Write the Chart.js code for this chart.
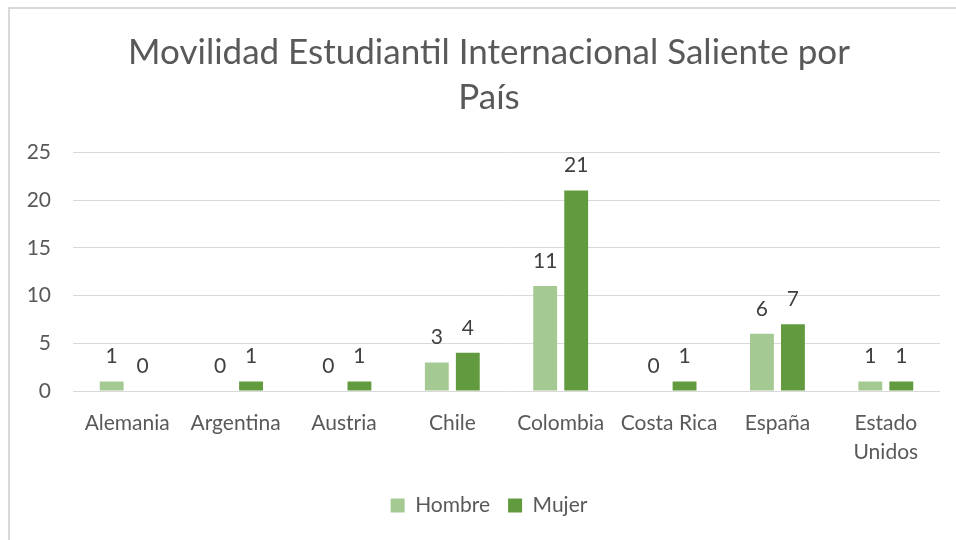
<!DOCTYPE html>
<html>
<head>
<meta charset="utf-8">
<script src="https://cdn.jsdelivr.net/npm/chart.js@4"></script>
<style>
  html, body { margin: 0; padding: 0; background: #fff; overflow: hidden; }
  #frame { position: absolute; left: 8px; top: 7px; width: 960px; height: 540px; border: 2px solid #d9d9d9; box-sizing: border-box; }
  #wrap { position: absolute; left: 0; top: 0; width: 956px; height: 540px; }
</style>
</head>
<body>
<div id="frame"></div>
<div id="wrap"><canvas id="chart" width="956" height="540"></canvas></div>
<script>
const categories = ['Alemania', 'Argentina', 'Austria', 'Chile', 'Colombia', 'Costa Rica', 'España', ['Estado', 'Unidos']];
const hombre = [1, 0, 0, 3, 11, 0, 6, 1];
const mujer = [0, 1, 1, 4, 21, 1, 7, 1];
const yTicks = [0, 5, 10, 15, 20, 25];

const fontFamily = 'Lato, "Open Sans", sans-serif';
const textColor = '#595959';

// value labels above each bar
const barLabels = {
    id: 'barLabels',
    afterDatasetsDraw(chart) {
        const ctx = chart.ctx;
        ctx.save();
        ctx.font = '21px ' + fontFamily;
        ctx.fillStyle = '#404040';
        ctx.textAlign = 'center';
        ctx.textBaseline = 'middle';
        chart.data.datasets.forEach((ds, i) => {
            chart.getDatasetMeta(i).data.forEach((bar, j) => {
                ctx.fillText(String(ds.data[j]), bar.x, bar.y - 25);
            });
        });
        ctx.restore();
    }
};

new Chart(document.getElementById('chart').getContext('2d'), {
    type: 'bar',
    data: {
        labels: categories,
        datasets: [
            { label: 'Hombre', data: hombre, backgroundColor: '#a5c993' },
            { label: 'Mujer', data: mujer, backgroundColor: '#629b3f' }
        ]
    },
    options: {
        responsive: false,
        animation: false,
        devicePixelRatio: 1,
        layout: { padding: { left: 26, right: 4, top: 30, bottom: 14 } },
        categoryPercentage: 0.572,
        barPercentage: 0.77,
        scales: {
            x: {
                grid: { display: false },
                border: { display: false },
                ticks: { color: textColor, font: { family: fontFamily, size: 21, lineHeight: 1.38 }, padding: 10, maxRotation: 0, autoSkip: false }
            },
            y: {
                min: 0,
                max: 25,
                afterBuildTicks(axis) { axis.ticks = yTicks.map(v => ({ value: v })); },
                afterFit(axis) { axis.width = 47; },
                grid: { color: '#d9d9d9', lineWidth: 1, drawTicks: false },
                border: { display: false },
                ticks: { color: textColor, font: { family: fontFamily, size: 21 }, padding: 22 }
            },
            // empty right axis, only there so title and legend centre like the original
            spacer: {
                type: 'linear',
                position: 'right',
                afterFit(axis) { axis.width = 12; },
                grid: { display: false },
                border: { display: false },
                ticks: { display: false }
            }
        },
        plugins: {
            title: {
                display: true,
                text: ['Movilidad Estudiantil Internacional Saliente por', 'País'],
                color: textColor,
                font: { family: fontFamily, size: 35, weight: 'normal', lineHeight: 1.29 },
                padding: { top: 0, bottom: 32 }
            },
            legend: {
                position: 'bottom',
                labels: { color: textColor, font: { family: fontFamily, size: 21 }, boxWidth: 14, boxHeight: 14, padding: 18 }
            },
            tooltip: { enabled: false }
        }
    },
    plugins: [barLabels]
});
</script>
</body>
</html>
